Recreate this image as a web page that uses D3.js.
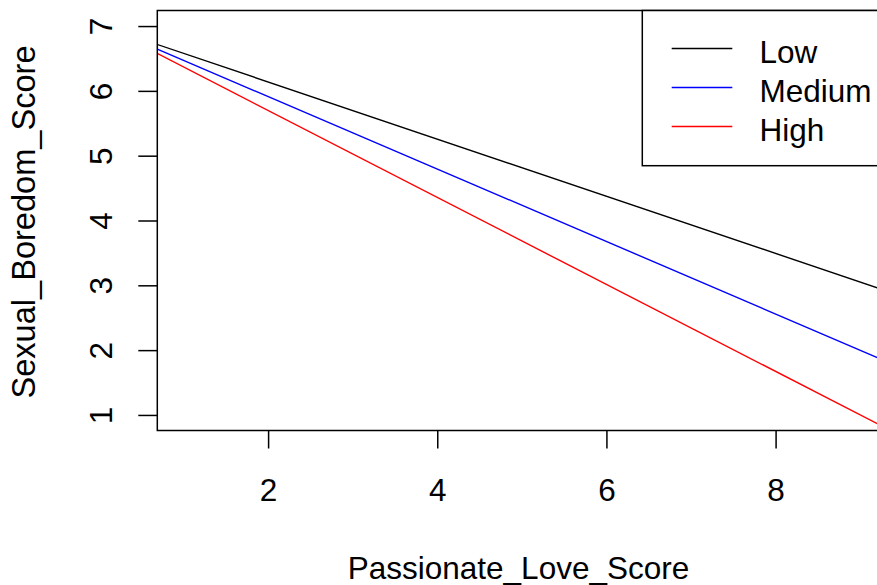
<!DOCTYPE html>
<html>
<head>
<meta charset="utf-8">
<script src="https://cdn.jsdelivr.net/npm/d3@7"></script>
<style>
  html, body { margin: 0; padding: 0; background: #fff; }
  svg { display: block; }
  text { font-family: "Liberation Sans", Arial, sans-serif; fill: #000; }
</style>
</head>
<body>
<svg id="chart" width="877" height="585"></svg>
<script>
// Predicted Sexual_Boredom_Score at the ends of the Passionate_Love_Score range,
// one simple slope per moderator level.
const passionLove = [0, 10];
const lowValues = [7.02, 2.61];
const mediumValues = [7.03, 1.44];
const highValues = [7.04, 0.33];

const levels = ["Low", "Medium", "High"];
const levelColors = ["#000000", "#0000ff", "#ff0000"];
const xTicks = [2, 4, 6, 8];
const yTicks = [1, 2, 3, 4, 5, 6, 7];

const seriesValues = [lowValues, mediumValues, highValues];

const svg = d3.select("#chart");
const W = 877, H = 585;
const plot = { left: 157.3, right: 905, top: 10.5, bottom: 430.5 };
const fontSize = 31.5;

const x = d3.scaleLinear().domain([0.69, 9.53]).range([plot.left, plot.right]);
const y = d3.scaleLinear().domain([0.76, 7.24]).range([plot.bottom, plot.top]);

svg.append("rect").attr("width", W).attr("height", H).attr("fill", "#fff");

// Clip region for the regression lines
svg.append("defs").append("clipPath").attr("id", "plotClip")
  .append("rect")
  .attr("x", plot.left).attr("y", plot.top)
  .attr("width", plot.right - plot.left).attr("height", plot.bottom - plot.top);

const line = d3.line().x(d => x(d[0])).y(d => y(d[1]));

const linesG = svg.append("g").attr("clip-path", "url(#plotClip)");
levels.forEach((lvl, i) => {
  const pts = passionLove.map((p, j) => [p, seriesValues[i][j]]);
  linesG.append("path")
    .attr("d", line(pts))
    .attr("fill", "none")
    .attr("stroke", levelColors[i])
    .attr("stroke-width", 1.4);
});

// Plot frame
svg.append("rect")
  .attr("x", plot.left).attr("y", plot.top)
  .attr("width", plot.right - plot.left).attr("height", plot.bottom - plot.top)
  .attr("fill", "none").attr("stroke", "#000").attr("stroke-width", 1.5);

// X axis: ticks below the frame, labels centered under each tick
const xAxis = d3.axisBottom(x).tickValues(xTicks).tickSize(18).tickPadding(0).tickFormat(d3.format("d"));
const gx = svg.append("g").attr("transform", `translate(0,${plot.bottom})`).call(xAxis);
gx.select(".domain").remove();
gx.selectAll(".tick line").attr("stroke", "#000").attr("stroke-width", 1.5);
gx.selectAll(".tick text")
  .attr("y", 70.5).attr("dy", null)
  .style("font-family", '"Liberation Sans", Arial, sans-serif')
  .style("font-size", fontSize + "px").attr("fill", "#000");

// Y axis: ticks to the left, labels rotated parallel to the axis
const yAxis = d3.axisLeft(y).tickValues(yTicks).tickSize(19).tickFormat(d3.format("d"));
const gy = svg.append("g").attr("transform", `translate(${plot.left},0)`).call(yAxis);
gy.select(".domain").remove();
gy.selectAll(".tick line").attr("stroke", "#000").attr("stroke-width", 1.5);
gy.selectAll(".tick text")
  .attr("x", null).attr("dy", null)
  .attr("text-anchor", "middle")
  .attr("transform", "translate(-45.5,0) rotate(-90)")
  .style("font-family", '"Liberation Sans", Arial, sans-serif')
  .style("font-size", fontSize + "px").attr("fill", "#000");

// Axis titles
svg.append("text")
  .attr("x", 518.5).attr("y", 579)
  .attr("text-anchor", "middle")
  .style("font-size", fontSize + "px")
  .text("Passionate_Love_Score");

svg.append("text")
  .attr("transform", "translate(35,222) rotate(-90)")
  .attr("text-anchor", "middle")
  .style("font-size", "32.6px")
  .text("Sexual_Boredom_Score");

// Legend in the top-right corner
const legend = svg.append("g");
legend.append("rect")
  .attr("x", 642.3).attr("y", plot.top)
  .attr("width", plot.right - 642.3).attr("height", 165.7 - plot.top)
  .attr("fill", "#fff").attr("stroke", "#000").attr("stroke-width", 1.5);

const legendY = d3.scalePoint().domain(levels).range([48.5, 126.5]);
levels.forEach((lvl, i) => {
  const ly = legendY(lvl);
  legend.append("line")
    .attr("x1", 671.7).attr("x2", 732.3)
    .attr("y1", ly).attr("y2", ly)
    .attr("stroke", levelColors[i]).attr("stroke-width", 1.4);
  legend.append("text")
    .attr("x", 759.5).attr("y", ly)
    .attr("dy", "14px")
    .style("font-size", fontSize + "px")
    .text(lvl);
});
</script>
</body>
</html>
